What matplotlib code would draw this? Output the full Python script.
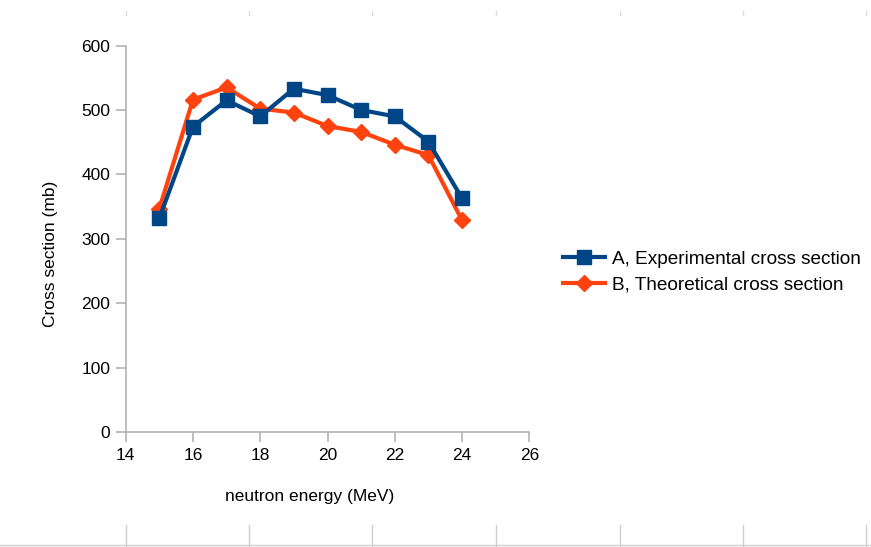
import matplotlib.pyplot as plt
from matplotlib.lines import Line2D

plt.rcParams['font.family'] = ['Liberation Sans', 'DejaVu Sans']

# neutron energy (MeV)
energy = [15, 16, 17, 18, 19, 20, 21, 22, 23, 24]
# cross sections (mb)
experimental = [332, 474, 515, 490, 533, 523, 500, 490, 451, 363]
theoretical = [347, 516, 535, 502, 496, 475, 466, 446, 430, 329]

blue = '#004586'
orange = '#ff420e'
axis_gray = '#b3b3b3'

W, H = 871, 547
fig = plt.figure(figsize=(W / 100, H / 100), dpi=100)
ax = fig.add_axes([125.7 / W, 1 - 432.3 / H, 403.6 / W, 386.8 / H])

ax.plot(energy, experimental, color=blue, lw=3, marker='s', ms=10,
        label='A, Experimental cross section', zorder=3)
ax.plot(energy, theoretical, color=orange, lw=3, marker='D', ms=8,
        label='B, Theoretical cross section', zorder=2)

ax.set_xlim(14, 26)
ax.set_ylim(0, 600)
ax.set_xticks(range(14, 27, 2))
ax.set_yticks(range(0, 601, 100))
for s in ['top', 'right']:
    ax.spines[s].set_visible(False)
for s in ['left', 'bottom']:
    ax.spines[s].set_color(axis_gray)
    ax.spines[s].set_linewidth(1.2)
ax.tick_params(length=7, width=1.2, color=axis_gray, labelsize=12.5, pad=4)

fig.text(310 / W, 1 - 496 / H, 'neutron energy (MeV)', ha='center', va='center', fontsize=12.5)
fig.text(50 / W, 1 - 254 / H, 'Cross section (mb)', ha='center', va='center',
         rotation=90, fontsize=12.5)

fig.legend(loc='center left', bbox_to_anchor=(563 / W, 1 - 272 / H), frameon=False,
           fontsize=13.7, borderpad=0, borderaxespad=0, handlelength=2.2,
           handletextpad=0.35, labelspacing=0.45)

# page-grid marks around the chart
grid_gray = '#cfcfcf'
for x in [126, 249, 372, 496, 620, 743, 866]:
    fig.add_artist(Line2D([x / W, x / W], [1 - 11 / H, 1 - 15 / H], color='#dddddd', lw=1))
    fig.add_artist(Line2D([x / W, x / W], [1 - 525 / H, 0], color=grid_gray, lw=1))
fig.add_artist(Line2D([0, 1], [1 - 545 / H, 1 - 545 / H], color=grid_gray, lw=1))

fig.savefig('out.png', dpi=100)
